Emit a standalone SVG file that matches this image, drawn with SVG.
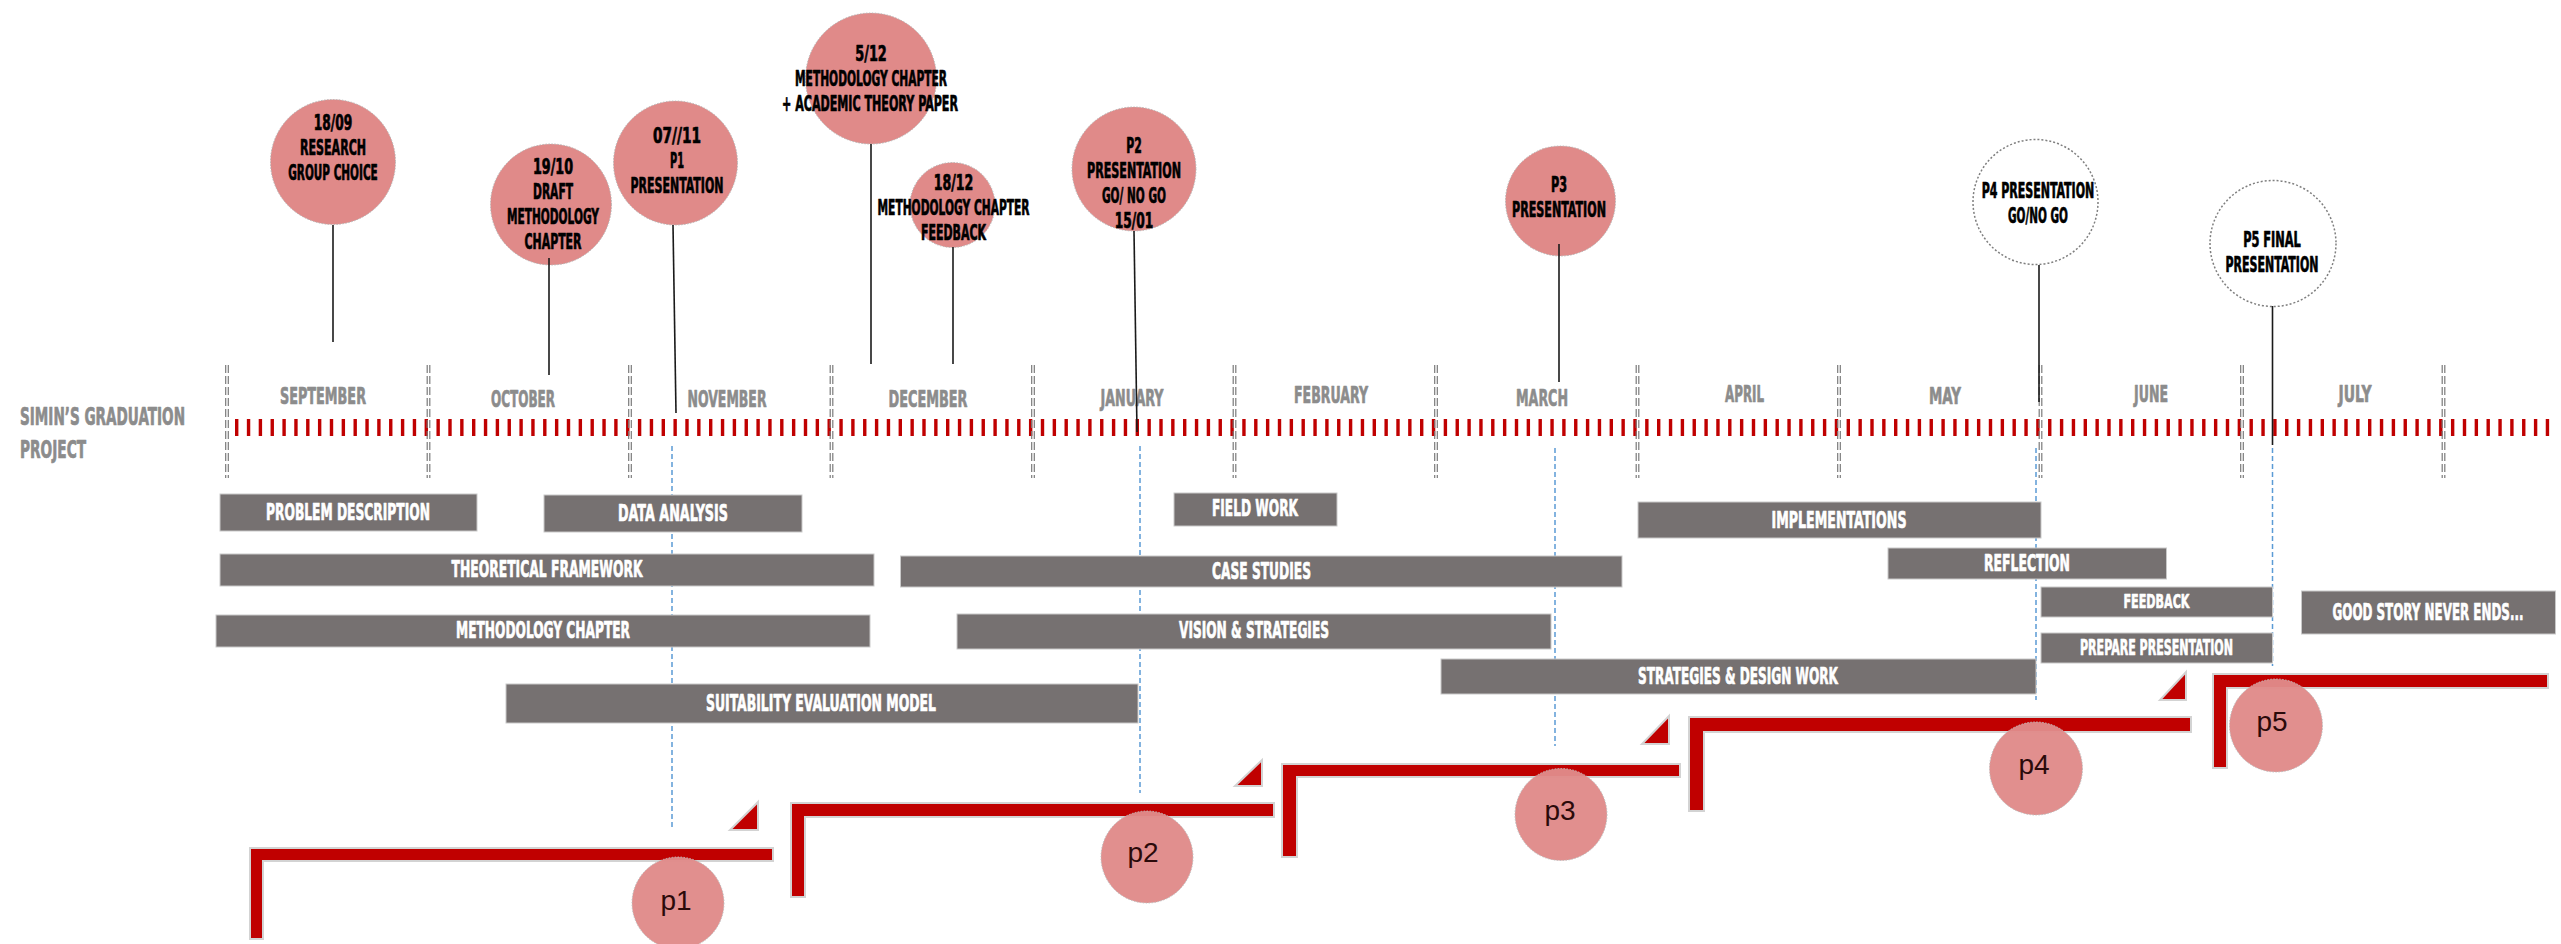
<svg xmlns="http://www.w3.org/2000/svg" xmlns:xlink="http://www.w3.org/1999/xlink" width="2561" height="944" viewBox="0 0 2561 944">
<style>
.c{font-family:"Liberation Sans Narrow","DejaVu Sans Condensed","Liberation Sans",sans-serif;font-weight:bold;stroke-width:0.7;stroke-linejoin:round}
.ms{fill:#000;stroke:#000;font-size:21px;text-anchor:middle}
.mo{fill:#8c8c8c;stroke:#8c8c8c;font-size:23px;text-anchor:middle}
.ttl{fill:#8c8c8c;stroke:#8c8c8c;font-size:24px}
.bt{fill:#fff;stroke:#fff;font-size:23px;text-anchor:middle}
.bar{fill:#767171;stroke:#c9c9c9;stroke-width:1}
.pin{fill:#e08a89;stroke:#b5b5b5;stroke-width:1;stroke-dasharray:1.5 1.5}
.wpin{fill:#fff;stroke:#7f7f7f;stroke-width:1.5;stroke-dasharray:2 2}
.stem{stroke:#1a1a1a;stroke-width:1.6;fill:none}
.guide{stroke:#5b9bd5;stroke-width:1.5;stroke-dasharray:5 3;fill:none}
.step{fill:#c00000;stroke:#d3d3d3;stroke-width:2}
.pc{fill:#e08a89;fill-opacity:0.96;stroke:#bdbdbd;stroke-width:1;stroke-dasharray:1.5 1.5}
.pt{font-family:"Liberation Sans","Open Sans",sans-serif;font-size:28px;fill:#2b0a0a;text-anchor:middle}
.dv{stroke:#7a7a7a;stroke-width:1.2;stroke-dasharray:8 3}
</style>
<defs>
<g id="div"><line class="dv" x1="-1.3" y1="365" x2="-1.3" y2="478"/><line class="dv" x1="1.3" y1="365" x2="1.3" y2="478"/></g>
</defs>
<rect width="2561" height="944" fill="#fff"/>

<g id="guides">
<line class="guide" x1="672" y1="446" x2="672" y2="829"/>
<line class="guide" x1="1140" y1="446" x2="1140" y2="793"/>
<line class="guide" x1="1555" y1="448" x2="1555" y2="746"/>
<line class="guide" x1="2036" y1="448" x2="2036" y2="700"/>
<line class="guide" x1="2272.5" y1="448" x2="2272.5" y2="666"/>
</g>

<g id="axis">
<text class="c ttl" x="20" y="425" textLength="165" lengthAdjust="spacingAndGlyphs">SIMIN’S GRADUATION</text>
<text class="c ttl" x="20" y="458" textLength="66" lengthAdjust="spacingAndGlyphs">PROJECT</text>
<line x1="235" y1="427.5" x2="2557" y2="427.5" stroke="#c00000" stroke-width="17" stroke-dasharray="3.4 8.45"/>
<use xlink:href="#div" x="227"/><use xlink:href="#div" x="428.5"/><use xlink:href="#div" x="630"/>
<use xlink:href="#div" x="831.5"/><use xlink:href="#div" x="1033"/><use xlink:href="#div" x="1234.5"/>
<use xlink:href="#div" x="1436"/><use xlink:href="#div" x="1637.5"/><use xlink:href="#div" x="1839"/>
<use xlink:href="#div" x="2040.5"/><use xlink:href="#div" x="2242"/><use xlink:href="#div" x="2443.5"/>
<text class="c mo" x="323" y="404" textLength="86" lengthAdjust="spacingAndGlyphs">SEPTEMBER</text>
<text class="c mo" x="523" y="407" textLength="64" lengthAdjust="spacingAndGlyphs">OCTOBER</text>
<text class="c mo" x="727" y="407" textLength="79" lengthAdjust="spacingAndGlyphs">NOVEMBER</text>
<text class="c mo" x="928" y="407" textLength="79" lengthAdjust="spacingAndGlyphs">DECEMBER</text>
<text class="c mo" x="1132" y="406" textLength="63" lengthAdjust="spacingAndGlyphs">JANUARY</text>
<text class="c mo" x="1331" y="403" textLength="74" lengthAdjust="spacingAndGlyphs">FEBRUARY</text>
<text class="c mo" x="1542" y="406" textLength="52" lengthAdjust="spacingAndGlyphs">MARCH</text>
<text class="c mo" x="1744.5" y="402" textLength="39" lengthAdjust="spacingAndGlyphs">APRIL</text>
<text class="c mo" x="1945" y="404" textLength="32" lengthAdjust="spacingAndGlyphs">MAY</text>
<text class="c mo" x="2151" y="402" textLength="34" lengthAdjust="spacingAndGlyphs">JUNE</text>
<text class="c mo" x="2355" y="402" textLength="33" lengthAdjust="spacingAndGlyphs">JULY</text>
</g>

<g id="bars">
<g id="bar-problem"><rect class="bar" x="220" y="494" width="257" height="37"/><text class="c bt" x="348" y="520" textLength="164" lengthAdjust="spacingAndGlyphs">PROBLEM DESCRIPTION</text></g>
<g id="bar-data"><rect class="bar" x="544" y="495" width="258" height="37"/><text class="c bt" x="673" y="521" textLength="110" lengthAdjust="spacingAndGlyphs">DATA ANALYSIS</text></g>
<g id="bar-theory"><rect class="bar" x="220" y="554" width="654" height="32"/><text class="c bt" x="547" y="577" textLength="191" lengthAdjust="spacingAndGlyphs">THEORETICAL FRAMEWORK</text></g>
<g id="bar-method"><rect class="bar" x="216" y="615" width="654" height="32"/><text class="c bt" x="543" y="638" textLength="174" lengthAdjust="spacingAndGlyphs">METHODOLOGY CHAPTER</text></g>
<g id="bar-suit"><rect class="bar" x="506" y="684" width="632" height="39"/><text class="c bt" x="821" y="711" textLength="230" lengthAdjust="spacingAndGlyphs">SUITABILITY EVALUATION MODEL</text></g>
<g id="bar-field"><rect class="bar" x="1174" y="493" width="163" height="33"/><text class="c bt" x="1255" y="516" textLength="86" lengthAdjust="spacingAndGlyphs">FIELD WORK</text></g>
<g id="bar-case"><rect class="bar" x="900.5" y="556" width="721.5" height="31"/><text class="c bt" x="1261.5" y="579" textLength="99" lengthAdjust="spacingAndGlyphs">CASE STUDIES</text></g>
<g id="bar-vision"><rect class="bar" x="957" y="614" width="594" height="35"/><text class="c bt" x="1254" y="638" textLength="150" lengthAdjust="spacingAndGlyphs">VISION &amp; STRATEGIES</text></g>
<g id="bar-design"><rect class="bar" x="1441" y="659" width="595" height="35"/><text class="c bt" x="1738" y="684" textLength="200" lengthAdjust="spacingAndGlyphs">STRATEGIES &amp; DESIGN WORK</text></g>
<g id="bar-impl"><rect class="bar" x="1638" y="502" width="403" height="36"/><text class="c bt" x="1839" y="528" textLength="135" lengthAdjust="spacingAndGlyphs">IMPLEMENTATIONS</text></g>
<g id="bar-reflect"><rect class="bar" x="1888" y="548" width="278.5" height="31"/><text class="c bt" x="2027" y="571" textLength="86" lengthAdjust="spacingAndGlyphs">REFLECTION</text></g>
<g id="bar-feedback"><rect class="bar" x="2041" y="587" width="231.5" height="30"/><text class="c bt" x="2156.5" y="608" style="font-size:20px" textLength="66" lengthAdjust="spacingAndGlyphs">FEEDBACK</text></g>
<g id="bar-prepare"><rect class="bar" x="2041" y="633" width="231.5" height="30"/><text class="c bt" x="2156.5" y="655" style="font-size:21px" textLength="153" lengthAdjust="spacingAndGlyphs">PREPARE PRESENTATION</text></g>
<g id="bar-story"><rect class="bar" x="2301.5" y="591" width="254" height="43"/><text class="c bt" x="2428" y="620" textLength="191" lengthAdjust="spacingAndGlyphs">GOOD STORY NEVER ENDS...</text></g>
</g>

<g id="m-1809"><circle class="pin" cx="333" cy="162" r="62.5"/>
<text class="c ms" x="333" y="130" textLength="38.5" lengthAdjust="spacingAndGlyphs">18/09</text>
<text class="c ms" x="333" y="155" textLength="66" lengthAdjust="spacingAndGlyphs">RESEARCH</text>
<text class="c ms" x="333" y="180" textLength="89.5" lengthAdjust="spacingAndGlyphs">GROUP CHOICE</text></g>
<g id="m-1910"><circle class="pin" cx="551" cy="204.5" r="60.5"/>
<text class="c ms" x="553" y="174" textLength="40" lengthAdjust="spacingAndGlyphs">19/10</text>
<text class="c ms" x="553" y="199" textLength="40" lengthAdjust="spacingAndGlyphs">DRAFT</text>
<text class="c ms" x="553" y="224" textLength="92" lengthAdjust="spacingAndGlyphs">METHODOLOGY</text>
<text class="c ms" x="553" y="249" textLength="57" lengthAdjust="spacingAndGlyphs">CHAPTER</text></g>
<g id="m-0711"><circle class="pin" cx="675.5" cy="163" r="62"/>
<text class="c ms" x="677" y="143" textLength="48" lengthAdjust="spacingAndGlyphs">07//11</text>
<text class="c ms" x="677" y="168" textLength="14" lengthAdjust="spacingAndGlyphs">P1</text>
<text class="c ms" x="677" y="193" textLength="93" lengthAdjust="spacingAndGlyphs">PRESENTATION</text></g>
<g id="m-0512"><circle class="pin" cx="871" cy="78.5" r="65.5"/>
<text class="c ms" x="871" y="61" textLength="31.5" lengthAdjust="spacingAndGlyphs">5/12</text>
<text class="c ms" x="871" y="86" textLength="152" lengthAdjust="spacingAndGlyphs">METHODOLOGY CHAPTER</text>
<text class="c ms" x="870" y="111" textLength="176" lengthAdjust="spacingAndGlyphs">+  ACADEMIC THEORY PAPER</text></g>
<g id="m-1812"><circle class="pin" cx="952.5" cy="205" r="42.5"/>
<text class="c ms" x="953.5" y="190" textLength="39.6" lengthAdjust="spacingAndGlyphs">18/12</text>
<text class="c ms" x="953.5" y="215" textLength="152" lengthAdjust="spacingAndGlyphs">METHODOLOGY CHAPTER</text>
<text class="c ms" x="953.5" y="240" textLength="65" lengthAdjust="spacingAndGlyphs">FEEDBACK</text></g>
<g id="m-p2"><circle class="pin" cx="1134" cy="169" r="62"/>
<text class="c ms" x="1134" y="153" textLength="15.5" lengthAdjust="spacingAndGlyphs">P2</text>
<text class="c ms" x="1134" y="178" textLength="94" lengthAdjust="spacingAndGlyphs">PRESENTATION</text>
<text class="c ms" x="1134" y="203" textLength="64" lengthAdjust="spacingAndGlyphs">GO/ NO GO</text>
<text class="c ms" x="1134" y="228" textLength="38.5" lengthAdjust="spacingAndGlyphs">15/01</text></g>
<g id="m-p3"><circle class="pin" cx="1560.5" cy="201" r="55"/>
<text class="c ms" x="1559" y="192" textLength="16" lengthAdjust="spacingAndGlyphs">P3</text>
<text class="c ms" x="1559" y="217" textLength="94" lengthAdjust="spacingAndGlyphs">PRESENTATION</text></g>
<g id="m-p4"><circle class="wpin" cx="2035.5" cy="202" r="62.5"/>
<text class="c ms" x="2038" y="198" textLength="112.6" lengthAdjust="spacingAndGlyphs">P4 PRESENTATION</text>
<text class="c ms" x="2038" y="223" textLength="60" lengthAdjust="spacingAndGlyphs">GO/NO GO</text></g>
<g id="m-p5"><circle class="wpin" cx="2273" cy="243.5" r="63"/>
<text class="c ms" x="2272" y="247" textLength="57.7" lengthAdjust="spacingAndGlyphs">P5  FINAL</text>
<text class="c ms" x="2272" y="272" textLength="93" lengthAdjust="spacingAndGlyphs">PRESENTATION</text></g>

<g id="connectors">
<line class="stem" x1="333" y1="225" x2="333" y2="342"/>
<line class="stem" x1="549" y1="258" x2="549" y2="375"/>
<line class="stem" x1="673" y1="225" x2="676" y2="413"/>
<line class="stem" x1="871" y1="144" x2="871" y2="364"/>
<line class="stem" x1="953" y1="247" x2="953" y2="364"/>
<line class="stem" x1="1134" y1="231" x2="1137" y2="432"/>
<line class="stem" x1="1559" y1="244" x2="1559" y2="382"/>
<line class="stem" x1="2039" y1="265" x2="2039" y2="402"/>
<line class="stem" x1="2272.5" y1="306" x2="2272.5" y2="445"/>
</g>

<g id="steps">
<polygon class="step" points="250,848 773,848 773,861 263,861 263,939 250,939"/>
<polygon class="step" points="758,802 758,830 730,830"/>
<polygon class="step" points="791,803 1274,803 1274,817 805,817 805,897 791,897"/>
<polygon class="step" points="1262,760 1262,786 1235,786"/>
<polygon class="step" points="1282,764 1680,764 1680,777 1297,777 1297,857 1282,857"/>
<polygon class="step" points="1669,716 1669,744 1642,744"/>
<polygon class="step" points="1689,717 2191,717 2191,732 1704,732 1704,811 1689,811"/>
<polygon class="step" points="2186,672 2186,700 2160,700"/>
<polygon class="step" points="2213,674 2548,674 2548,688 2227,688 2227,768 2213,768"/>
</g>

<g id="p1"><circle class="pc" cx="678" cy="903" r="46"/><text class="pt" x="676" y="910">p1</text></g>
<g id="p2"><circle class="pc" cx="1147" cy="857" r="46"/><text class="pt" x="1143" y="862">p2</text></g>
<g id="p3"><circle class="pc" cx="1561" cy="814.5" r="46"/><text class="pt" x="1560" y="820">p3</text></g>
<g id="p4"><circle class="pc" cx="2036" cy="768.5" r="46.5"/><text class="pt" x="2034" y="774">p4</text></g>
<g id="p5"><circle class="pc" cx="2276" cy="725.5" r="46.5"/><text class="pt" x="2272" y="731">p5</text></g>
</svg>
